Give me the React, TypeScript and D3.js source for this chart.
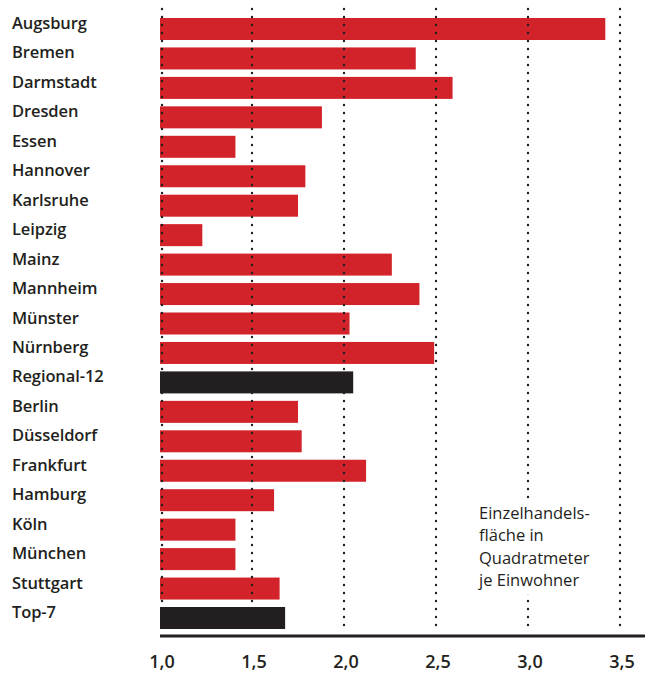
import React from "react";
import * as d3 from "d3";

const cities = [
  "Augsburg", "Bremen", "Darmstadt", "Dresden", "Essen", "Hannover", "Karlsruhe",
  "Leipzig", "Mainz", "Mannheim", "Münster", "Nürnberg", "Regional-12",
  "Berlin", "Düsseldorf", "Frankfurt", "Hamburg", "Köln", "München", "Stuttgart", "Top-7",
];
const values = [
  3.42, 2.39, 2.59, 1.88, 1.41, 1.79, 1.75,
  1.23, 2.26, 2.41, 2.03, 2.49, 2.05,
  1.75, 1.77, 2.12, 1.62, 1.41, 1.41, 1.65, 1.68,
];
const aggregates = ["Regional-12", "Top-7"];
const ticks = [1.0, 1.5, 2.0, 2.5, 3.0, 3.5];
const noteLines = ["Einzelhandels-", "fläche in", "Quadratmeter", "je Einwohner"];

const W = 645;
const H = 673;
const RED = "#d2232a";
const BLACK = "#231f20";
const FONT = "'Open Sans', 'Noto Sans', sans-serif";

export default function App() {
  const x = d3.scaleLinear().domain([1, 3.5]).range([160, 620]);
  const y = d3.scaleBand<string>().domain(cities).range([18, 629]).paddingInner(0.253).paddingOuter(0);
  const data = cities.map((c, i) => ({ c, v: values[i], agg: aggregates.includes(c) }));
  const fmt = (v: number) => d3.format(".1f")(v).replace(".", ",");

  return (
    <svg width={W} height={H} style={{ position: "absolute", left: 0, top: 0, background: "#fff" }}>
      {data.filter(d => !d.agg).map(d => (
        <rect key={d.c} x={x(1)} y={y(d.c)} width={x(d.v) - x(1)} height={y.bandwidth()} fill={RED} />
      ))}
      {ticks.map(t => (
        <line key={t} x1={x(t) + (t === 1 ? 2 : 0)} x2={x(t) + (t === 1 ? 2 : 0)} y1={9} y2={632}
          stroke={BLACK} strokeWidth={2.4} strokeLinecap="round" strokeDasharray="0 8" />
      ))}
      {data.filter(d => d.agg).map(d => (
        <rect key={d.c} x={x(1)} y={y(d.c)} width={x(d.v) - x(1)} height={y.bandwidth()} fill={BLACK} />
      ))}
      <rect x={470} y={500} width={130} height={94} fill="#fff" />
      <line x1={x(1)} x2={W} y1={636} y2={636} stroke={BLACK} strokeWidth={3} />
      {ticks.map(t => (
        <text key={t} x={x(t) + 2} y={668} textAnchor="middle" fontFamily={FONT} fontWeight={600}
          fontSize={18} fill={BLACK}>{fmt(t)}</text>
      ))}
      {data.map(d => (
        <text key={d.c} x={12} y={(y(d.c) as number) + y.bandwidth() / 2} fontFamily={FONT}
          fontWeight={600} fontSize={16.5} letterSpacing={-0.1} fill={BLACK}>{d.c}</text>
      ))}
      <text fontFamily={FONT} fontSize={16.5} fill={BLACK}>
        {noteLines.map((l, i) => (
          <tspan key={l} x={479} y={519 + i * 22.4}>{l}</tspan>
        ))}
      </text>
    </svg>
  );
}
